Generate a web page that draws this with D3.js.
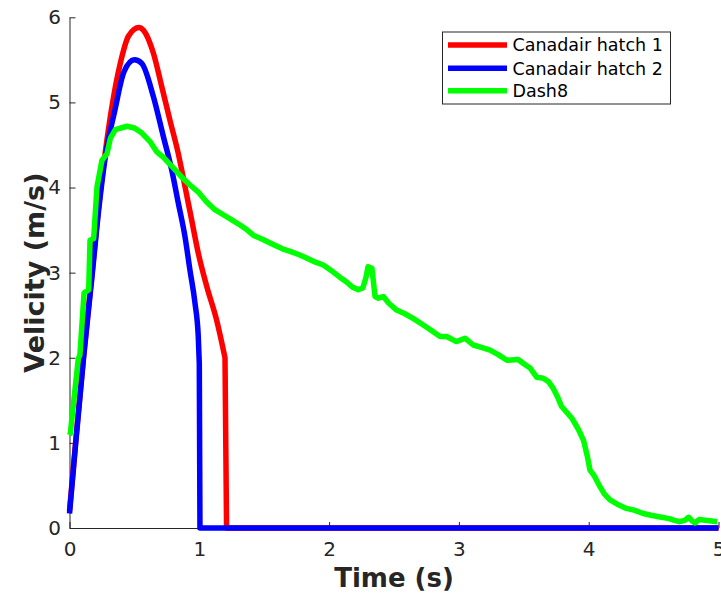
<!DOCTYPE html>
<html><head><meta charset="utf-8">
<script src="https://cdn.jsdelivr.net/npm/d3@7"></script>
<style>body{margin:0;background:#fff}svg{display:block}text{font-family:"DejaVu Sans",sans-serif}</style>
</head><body><svg id="c" width="721" height="595"></svg>
<script>
const xTicks=[0,1,2,3,4,5];
const yTicks=[0,1,2,3,4,5,6];
const seriesNames=["Canadair hatch 1","Canadair hatch 2","Dash8"];
const seriesColors=["#ff0000","#0000ff","#00ff00"];
const hatch1T=[0,0.045,0.109,0.173,0.225,0.276,0.33,0.39,0.455,0.535,0.569,0.646,0.71,0.774,0.838,0.89,0.941,0.992,1.057,1.134,1.198,1.21,5];
const hatch1V=[0.2,0.97,2.03,2.98,3.78,4.42,4.98,5.45,5.78,5.88,5.85,5.58,5.19,4.79,4.40,4.01,3.62,3.23,2.84,2.44,2.0,0,0];
const hatch2T=[0,0.045,0.109,0.173,0.225,0.276,0.35,0.42,0.5,0.556,0.646,0.723,0.787,0.838,0.89,0.928,0.967,0.992,1.0,1.005,5];
const hatch2V=[0.17,0.95,2.01,2.95,3.74,4.36,4.91,5.36,5.5,5.46,5.07,4.60,4.21,3.82,3.42,3.03,2.64,2.25,1.93,0,0];
const dash8T=[0,0.006,0.068,0.08,0.112,0.148,0.158,0.186,0.212,0.25,0.289,0.315,0.353,0.443,0.5,0.558,0.62,0.672,0.72,0.8,0.86,0.928,0.99,1.057,1.12,1.185,1.25,1.314,1.37,1.416,1.49,1.57,1.64,1.7,1.77,1.83,1.9,1.955,2.03,2.08,2.135,2.18,2.225,2.26,2.285,2.3,2.33,2.354,2.38,2.418,2.46,2.52,2.58,2.65,2.72,2.78,2.855,2.906,2.98,3.047,3.11,3.18,3.24,3.3,3.37,3.457,3.5,3.548,3.6,3.65,3.69,3.727,3.76,3.79,3.83,3.87,3.92,3.96,3.99,4.01,4.04,4.087,4.12,4.164,4.22,4.29,4.35,4.42,4.48,4.55,4.62,4.66,4.7,4.74,4.77,4.8,4.82,4.85,4.88,4.93,4.99];
const dash8V=[1.09,1.11,1.99,2.03,2.76,2.8,3.38,3.4,4.01,4.32,4.4,4.58,4.68,4.72,4.7,4.64,4.54,4.42,4.36,4.23,4.13,4.03,3.95,3.83,3.74,3.68,3.62,3.56,3.5,3.44,3.39,3.33,3.28,3.25,3.21,3.17,3.12,3.09,3.01,2.95,2.89,2.83,2.8,2.82,2.95,3.07,3.05,2.72,2.7,2.72,2.64,2.56,2.52,2.46,2.39,2.33,2.25,2.25,2.19,2.23,2.15,2.12,2.09,2.04,1.97,1.98,1.93,1.88,1.77,1.76,1.72,1.64,1.54,1.43,1.36,1.29,1.16,1.03,0.84,0.68,0.62,0.485,0.4,0.33,0.28,0.23,0.21,0.17,0.15,0.13,0.11,0.09,0.074,0.09,0.126,0.08,0.06,0.1,0.094,0.085,0.074];

const svg=d3.select("#c");
const x=d3.scaleLinear().domain([0,5]).range([69.5,718.5]);
const y=d3.scaleLinear().domain([0,6]).range([528,17.3]);
const axColor="#262626";

const xa=svg.append("g").attr("transform","translate(0,528)")
  .call(d3.axisBottom(x).tickValues(xTicks).tickSizeInner(-6).tickSizeOuter(0).tickPadding(14).tickFormat(d3.format("d")));
const ya=svg.append("g").attr("transform","translate(69.5,0)")
  .call(d3.axisLeft(y).tickValues(yTicks).tickSizeInner(-6).tickSizeOuter(0).tickPadding(8.5).tickFormat(d3.format("d")));
[xa,ya].forEach(g=>{
  g.select(".domain").attr("stroke",axColor).attr("stroke-width",1);
  g.selectAll(".tick line").attr("stroke",axColor);
  g.selectAll(".tick text").attr("fill",axColor).style("font-size","20px").style("font-family","DejaVu Sans");
});
xa.selectAll(".tick text").attr("dy","0.7em");

const series=[[hatch1T,hatch1V],[hatch2T,hatch2V],[dash8T,dash8V]];
const smooth=d3.line().x(d=>x(d[0])).y(d=>y(d[1])).curve(d3.curveMonotoneX);
const plain=d3.line().x(d=>x(d[0])).y(d=>y(d[1]));
svg.append("clipPath").attr("id","pc").append("rect").attr("x",60).attr("y",0).attr("width",661).attr("height",535);
[0,1,2].forEach(i=>{
  const pts=series[i][0].map((t,k)=>[t,series[i][1][k]]);
  let d;
  if(i<2){
    // smooth pulse up to the cut-off point, then straight drop and flat zero
    const k=pts.findIndex(p=>p[1]===0)-1;
    d=smooth(pts.slice(0,k+1))+pts.slice(k+1).map(p=>"L"+x(p[0])+","+y(p[1])).join("");
  } else d=plain(pts);
  svg.append("path").attr("d",d).attr("fill","none")
    .attr("stroke",seriesColors[i]).attr("stroke-width",5.5).attr("stroke-linejoin","round").attr("stroke-linecap","butt")
    .attr("clip-path","url(#pc)");
});

svg.append("text").attr("x",394).attr("y",587).attr("text-anchor","middle")
  .style("font-size","26px").style("font-weight","bold").attr("fill",axColor).text("Time (s)");
svg.append("text").attr("transform","translate(44,272.6) rotate(-90)").attr("text-anchor","middle")
  .style("font-size","27px").style("font-weight","bold").attr("fill",axColor).text("Velicity (m/s)");

const lg=svg.append("g");
lg.append("rect").attr("x",442.5).attr("y",32).attr("width",228).attr("height",72)
  .attr("fill","#fff").attr("stroke",axColor).attr("stroke-width",1);
const rowY=[45,68.3,90.7];
seriesNames.forEach((n,i)=>{
  lg.append("line").attr("x1",448).attr("x2",507).attr("y1",rowY[i]).attr("y2",rowY[i])
    .attr("stroke",seriesColors[i]).attr("stroke-width",5.5);
  lg.append("text").attr("x",512.5).attr("y",rowY[i]).attr("dy","0.36em")
    .style("font-size","17.5px").attr("fill","#000").text(n);
});
</script></body></html>
